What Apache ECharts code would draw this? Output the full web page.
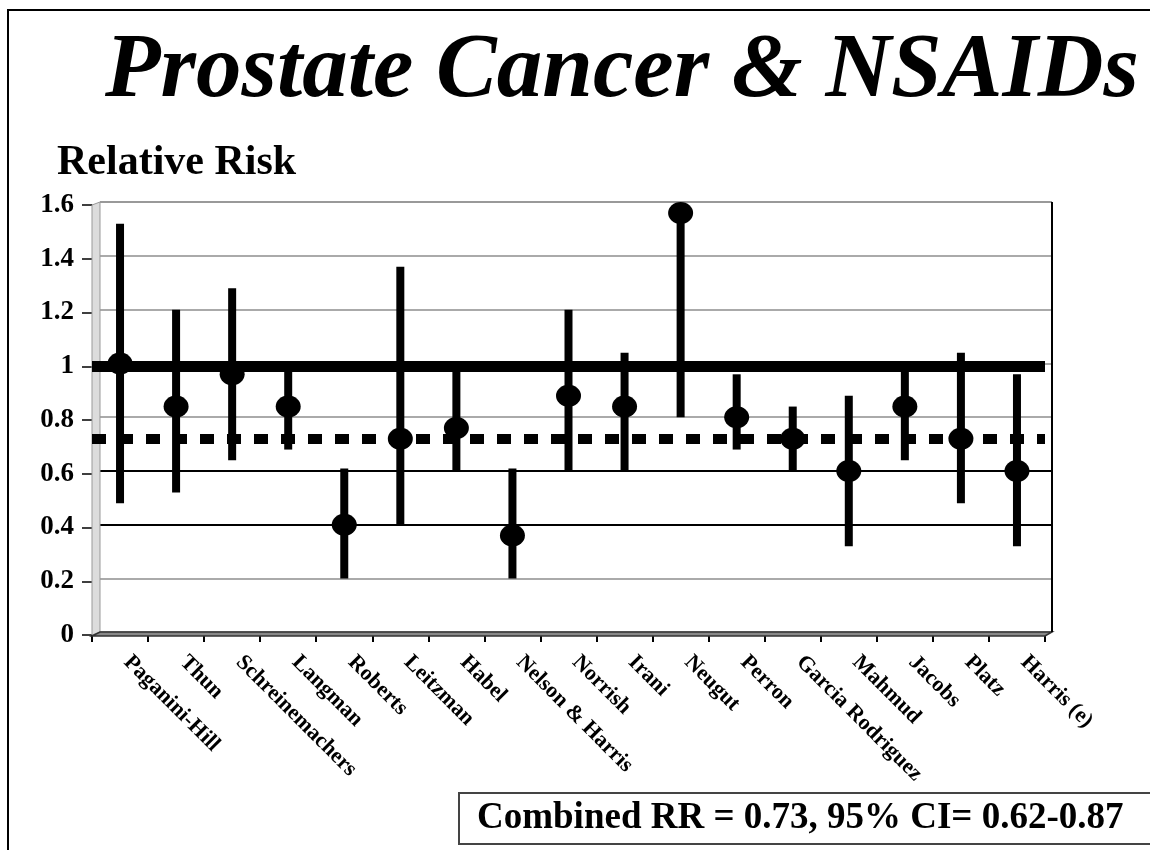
<!DOCTYPE html>
<html>
<head>
<meta charset="utf-8">
<script src="https://cdn.jsdelivr.net/npm/echarts@6/dist/echarts.min.js"></script>
<style>html,body{margin:0;padding:0;background:#fff;}#c{width:1150px;height:850px;}</style>
</head>
<body>
<div id="c"></div>
<script>
const categories = ['Paganini-Hill','Thun','Schreinemachers','Langman','Roberts','Leitzman','Habel','Nelson & Harris','Norrish','Irani','Neugut','Perron','Garcia Rodriguez','Mahmud','Jacobs','Platz','Harris (e)'];
const rr     = [1.01, 0.85, 0.97, 0.85, 0.41, 0.73, 0.77, 0.37, 0.89, 0.85, 1.57, 0.81, 0.73, 0.61, 0.85, 0.73, 0.61];
const ciLow  = [0.49, 0.53, 0.65, 0.69, 0.21, 0.41, 0.61, 0.21, 0.61, 0.61, 0.81, 0.69, 0.61, 0.33, 0.65, 0.49, 0.33];
const ciHigh = [1.53, 1.21, 1.29, 1.00, 0.62, 1.37, 1.00, 0.62, 1.21, 1.05, 1.57, 0.97, 0.85, 0.89, 1.00, 1.05, 0.97];
const yTickMin = 0, yTickMax = 1.6, yTickStep = 0.2;
const nullRR = 1.0;
const combinedRR = 0.73;
const titleText = 'Prostate Cancer & NSAIDs';
const yName = 'Relative Risk';
const summaryText = 'Combined RR = 0.73, 95% CI= 0.62-0.87';

const FONT = '"Liberation Serif", "Times New Roman", serif';
const chart = echarts.init(document.getElementById('c'), null, {renderer: 'canvas'});

const option = {
  backgroundColor: '#fff',
  animation: false,
  title: [
    {text: titleText, left: 100, top: 22,
     textStyle: {fontFamily: FONT, fontSize: 91, fontStyle: 'italic', fontWeight: 'bold', color: '#000'}},
    {text: yName, left: 52, top: 137,
     textStyle: {fontFamily: FONT, fontSize: 42, fontWeight: 'bold', color: '#000'}},
    {text: summaryText, left: 459, top: 793, borderColor: '#444', borderWidth: 2,
     padding: [7, 60, 7, 18],
     textStyle: {fontFamily: FONT, fontSize: 37, fontWeight: 'bold', color: '#000'}}
  ],
  grid: [
    {left: 100, right: 98, top: 202, bottom: 218, show: true, borderWidth: 0, backgroundColor: '#fff'},
    {left: 92, right: 105, top: 205, bottom: 215}
  ],
  xAxis: [
    {gridIndex: 0, type: 'category', data: categories, show: false},
    {gridIndex: 1, type: 'category', data: categories, boundaryGap: true,
     axisLine: {show: false},
     axisTick: {show: true, length: 7, alignWithLabel: false, lineStyle: {color: '#000', width: 2}},
     axisLabel: {interval: 0, rotate: -45, margin: 17, padding: [0, 0, 0, 10], fontFamily: FONT, fontSize: 22, fontWeight: 'bold', color: '#000'}}
  ],
  yAxis: [
    {gridIndex: 0, type: 'value', min: yTickMin, max: yTickMax, interval: yTickStep,
     axisLine: {show: false}, axisTick: {show: false}, axisLabel: {show: false},
     splitLine: {show: true, lineStyle: {color: ['#aaa','#aaa','#000','#000','#aaa','#aaa','#aaa','#aaa','#999'], width: 2}}},
    {gridIndex: 1, type: 'value', min: yTickMin, max: yTickMax, interval: yTickStep,
     axisLine: {show: true, lineStyle: {color: '#555', width: 1}},
     axisTick: {show: true, length: 10, lineStyle: {color: '#000', width: 1.5}},
     axisLabel: {margin: 18, fontFamily: FONT, fontSize: 27, fontWeight: 'bold', color: '#000'},
     splitLine: {show: false}}
  ],
  graphic: [
    {type: 'rect', shape: {x: 8, y: 10, width: 1200, height: 900}, style: {fill: 'none', stroke: '#000', lineWidth: 2}, z: 100},
    {type: 'polygon', shape: {points: [[92,205],[100,202],[100,632],[92,635]]}, style: {fill: '#dcdcdc', stroke: '#999', lineWidth: 1}, z: 1},
    {type: 'polygon', shape: {points: [[92,636],[100,632],[1052,632],[1045,636]]}, style: {fill: '#888', stroke: '#333', lineWidth: 1.5}, z: 1},
    {type: 'line', shape: {x1: 100, y1: 202, x2: 1052, y2: 202}, style: {stroke: '#999', lineWidth: 2}, z: 1},
    {type: 'line', shape: {x1: 1052, y1: 202, x2: 1052, y2: 632}, style: {stroke: '#000', lineWidth: 2}, z: 1}
  ],
  series: [
    {type: 'custom', xAxisIndex: 1, yAxisIndex: 1, z: 5,
     data: categories.map((c, i) => [i, ciLow[i], ciHigh[i]]),
     renderItem: function (params, api) {
       const lo = api.coord([api.value(0), api.value(1)]);
       const hi = api.coord([api.value(0), api.value(2)]);
       return {type: 'rect', shape: {x: lo[0] - 4, y: hi[1], width: 8, height: lo[1] - hi[1]}, style: {fill: '#000'}};
     }},
    {type: 'scatter', xAxisIndex: 1, yAxisIndex: 1, z: 6,
     symbol: 'circle', symbolSize: [25, 22],
     itemStyle: {color: '#000', opacity: 1},
     data: categories.map((c, i) => [i, rr[i]]),
     markLine: {silent: true, symbol: 'none', label: {show: false},
       data: [
         {yAxis: nullRR, lineStyle: {color: '#000', width: 11, type: 'solid', opacity: 1}},
         {yAxis: combinedRR, lineStyle: {color: '#000', width: 10, type: [14, 13], opacity: 1}}
       ]}}
  ]
};
chart.setOption(option);
</script>
</body>
</html>
